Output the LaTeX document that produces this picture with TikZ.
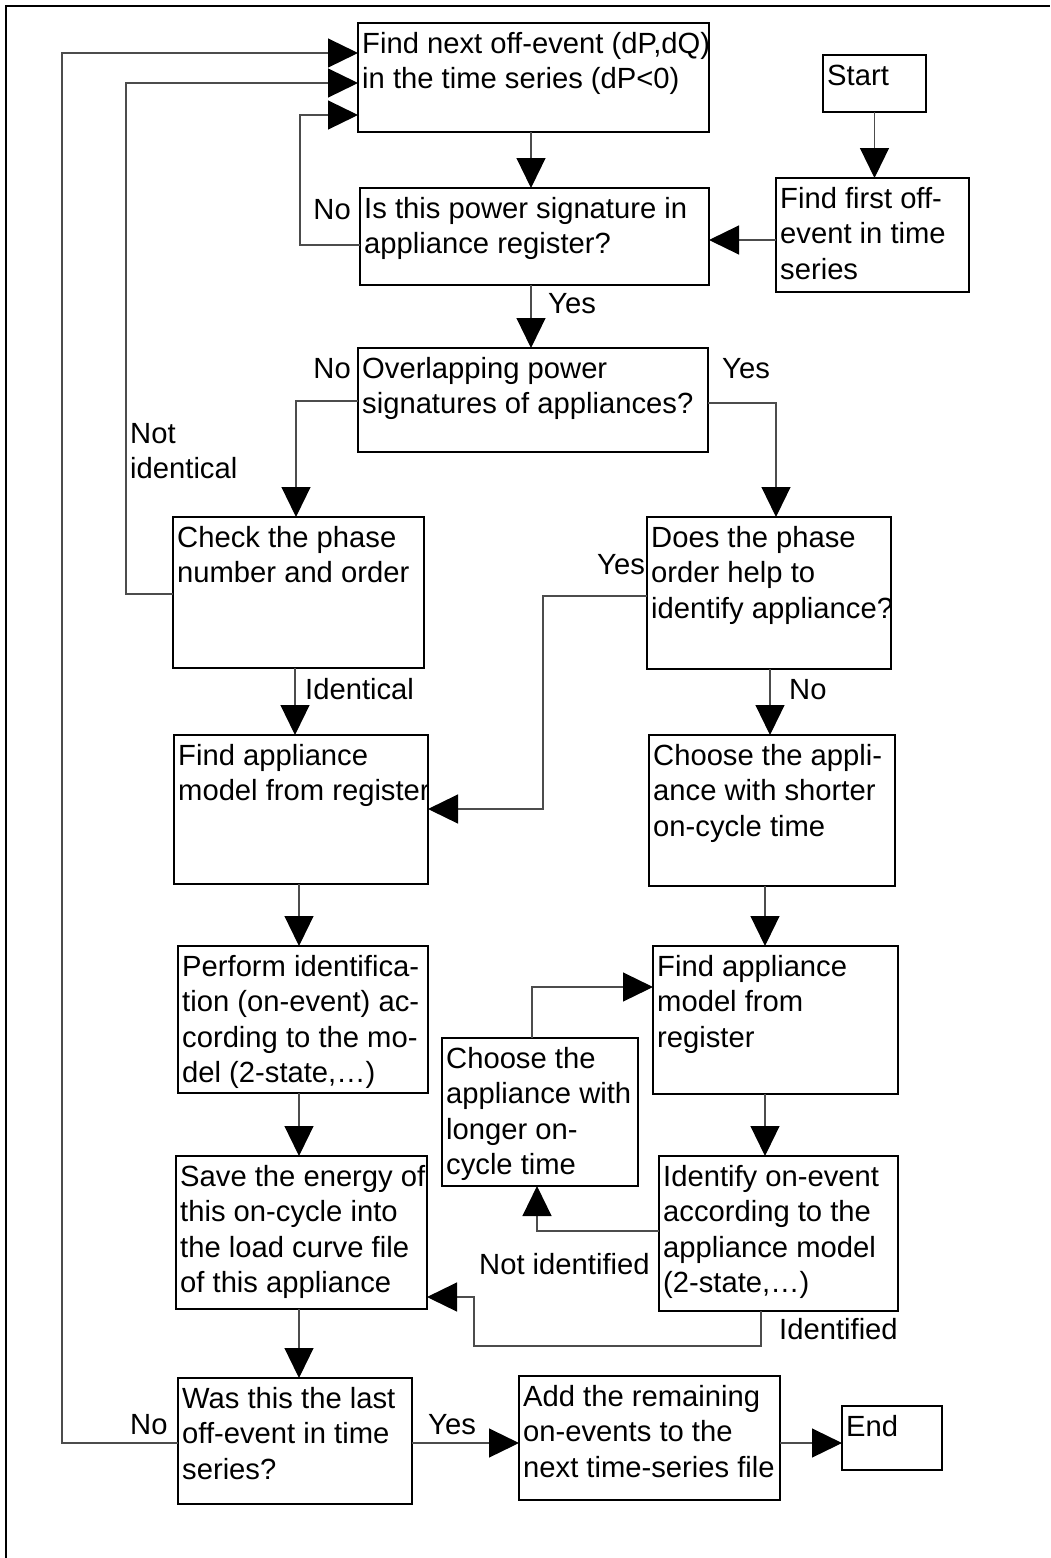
\documentclass[tikz,border=0pt]{standalone}
\usepackage{fontspec}
\setmainfont{Liberation Sans}
\usetikzlibrary{arrows.meta}
\newcommand\topstrut{\rule{0pt}{24pt}}
% a box given by its corners (x1,y1) and (x2,y2), with its text set from the top left
\newcommand\flowbox[6]{%
  \node[box, minimum width={#4-#2}, minimum height={#5-#3}] (#1) at (#2,#3) {};
  \node[txt] (#1t) at (#2+4,#3+6) {\topstrut#6};
}
\begin{document}
\begin{tikzpicture}[x=1pt,y=-1pt,
  box/.style={draw=black, line width=1.3pt, anchor=north west, inner sep=0pt, outer sep=0pt},
  txt/.style={anchor=north west, inner sep=0pt, align=left, font=\fontsize{29.2}{35.5}\selectfont},
  lbl/.style={inner sep=0pt, font=\fontsize{29.2}{35.5}\selectfont},
  link/.style={draw=black!70, line width=1.2pt},
  arr/.style={link, -{Triangle[length=30pt,width=29pt,color=black]}}
]
\useasboundingbox (0,0) rectangle (1050,1558);
% outer frame
\draw[line width=1.8pt] (6,1558) -- (6,6) -- (1050,6);

% boxes
\flowbox{b1}{358}{23}{709}{132}{Find next off-event (dP,dQ)\\in the time series (dP<0)}
\flowbox{start}{823}{55}{926}{112}{Start}
\flowbox{first}{776}{178}{969}{292}{Find first off-\\event in time\\series}
\flowbox{b2}{360}{188}{709}{285}{Is this power signature in\\appliance register?}
\flowbox{b3}{358}{348}{708}{452}{Overlapping power\\signatures of appliances?}
\flowbox{b4}{173}{517}{424}{668}{Check the phase\\number and order}
\flowbox{b5}{647}{517}{891}{669}{Does the phase\\order help to\\identify appliance?}
\flowbox{b6}{174}{735}{428}{884}{Find appliance\\model from register}
\flowbox{b7}{649}{735}{895}{886}{Choose the appli-\\ance with shorter\\on-cycle time}
\flowbox{b8}{178}{946}{428}{1093}{Perform identifica-\\tion (on-event) ac-\\cording to the mo-\\del (2-state,…)}
\flowbox{b9}{653}{946}{898}{1094}{Find appliance\\model from\\register}
\flowbox{b10}{442}{1038}{638}{1186}{Choose the\\appliance with\\longer on-\\cycle time}
\flowbox{b11}{176}{1156}{427}{1309}{Save the energy of\\this on-cycle into\\the load curve file\\of this appliance}
\flowbox{b12}{659}{1156}{898}{1311}{Identify on-event\\according to the\\appliance model\\(2-state,…)}
\flowbox{b13}{178}{1378}{412}{1504}{Was this the last\\off-event in time\\series?}
\flowbox{b14}{519}{1376}{780}{1500}{Add the remaining\\on-events to the\\next time-series file}
\flowbox{stop}{842}{1406}{942}{1470}{End}

% turning points and trunk positions of the connectors
\coordinate (xm) at (531,0);
\coordinate (xa) at (295,0);
\coordinate (xb) at (299,0);
\coordinate (xc) at (770,0);
\coordinate (xr) at (765,0);
\coordinate (yf) at (0,240);
\coordinate (yb) at (0,1443);
\coordinate (p1) at (300,245);  \coordinate (p2) at (300,115);
\coordinate (p3) at (296,401);  \coordinate (p4) at (776,403);
\coordinate (p5) at (126,594);  \coordinate (p6) at (126,83);
\coordinate (p7) at (543,596);  \coordinate (p8) at (543,809);
\coordinate (p9) at (532,987);
\coordinate (p10) at (537,1231);
\coordinate (p11) at (761,1346); \coordinate (p12) at (474,1346); \coordinate (p13) at (474,1297);
\coordinate (p14) at (62,1443); \coordinate (p15) at (62,53);

% connectors
\draw[arr] (start.south) -- (start.south |- first.north);
\draw[arr] (first.west |- yf) -- (b2.east |- yf);
\draw[arr] (b1.south -| xm) -- (b2.north -| xm);
\draw[arr] (b2.south -| xm) -- (b3.north -| xm);
\draw[arr] (b2.west |- p1) -- (p1) -- (p2) -- (b1.west |- p2);
\draw[arr] (b3.west |- p3) -- (p3) -- (b4.north -| p3);
\draw[arr] (b3.east |- p4) -- (p4) -- (b5.north -| p4);
\draw[arr] (b4.west |- p5) -- (p5) -- (p6) -- (b1.west |- p6);
\draw[arr] (b5.west |- p7) -- (p7) -- (p8) -- (b6.east |- p8);
\draw[arr] (b4.south -| xa) -- (b6.north -| xa);
\draw[arr] (b5.south -| xc) -- (b7.north -| xc);
\draw[arr] (b6.south -| xb) -- (b8.north -| xb);
\draw[arr] (b7.south -| xr) -- (b9.north -| xr);
\draw[arr] (b10.north -| p9) -- (p9) -- (b9.west |- p9);
\draw[arr] (b8.south -| xb) -- (b11.north -| xb);
\draw[arr] (b9.south -| xr) -- (b12.north -| xr);
\draw[arr] (b12.west |- p10) -- (p10) -- (b10.south -| p10);
\draw[arr] (b12.south -| p11) -- (p11) -- (p12) -- (p13) -- (b11.east |- p13);
\draw[arr] (b11.south -| xb) -- (b13.north -| xb);
\draw[arr] (b13.west |- p14) -- (p14) -- (p15) -- (b1.west |- p15);
\draw[arr] (b13.east |- yb) -- (b14.west |- yb);
\draw[arr] (b14.east |- yb) -- (stop.west |- yb);

% branch labels
\node[lbl, anchor=base east] (l1) at (351,219) {No};
\node[lbl, anchor=base west] (l2) at (548,313) {Yes};
\node[lbl, anchor=base east] (l3) at (351,378) {No};
\node[lbl, anchor=base west] (l4) at (722,378) {Yes};
\node[lbl, anchor=north west, align=left] (l5) at (130,419) {\topstrut Not\\identical};
\node[lbl, anchor=base west] (l6) at (597,574) {Yes};
\node[lbl, anchor=base west] (l7) at (305,699) {Identical};
\node[lbl, anchor=base west] (l8) at (789,699) {No};
\node[lbl, anchor=base west] (l9) at (479,1274) {Not identified};
\node[lbl, anchor=base west] (l10) at (779,1339) {Identified};
\node[lbl, anchor=base west] (l11) at (130,1434) {No};
\node[lbl, anchor=base west] (l12) at (428,1434) {Yes};
\end{tikzpicture}
\end{document}
